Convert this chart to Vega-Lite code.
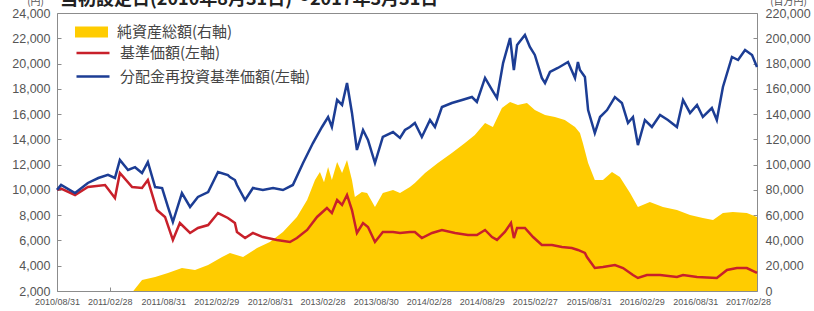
{
  "$schema": "https://vega.github.io/schema/vega-lite/v6.json",
  "width": 700,
  "height": 278,
  "autosize": {"type": "none"},
  "padding": {"left": 57, "top": 13, "right": 57, "bottom": 20},
  "background": "white",
  "config": {
    "view": {"stroke": "#8c8c8c", "strokeWidth": 1},
    "axis": {
      "domain": false,
      "grid": false,
      "labelFont": "Liberation Sans",
      "labelColor": "#555555",
      "tickColor": "#8c8c8c",
      "tickSize": -4,
      "labelOverlap": false,
      "labelFlush": false
    }
  },
  "title": {
    "text": "当初設定日(2010年8月31日)～2017年3月31日",
    "anchor": "start",
    "frame": "group",
    "font": "Noto Sans CJK JP",
    "fontSize": 18,
    "fontWeight": "bold",
    "color": "#222222",
    "offset": 5,
    "dx": 3,
    "dy": 18
  },
  "datasets": {
    "assets": [
      {"date": "2011/05/20", "value": 0},
      {"date": "2011/06/19", "value": 8700},
      {"date": "2011/08/03", "value": 11080},
      {"date": "2011/09/16", "value": 14250},
      {"date": "2011/11/03", "value": 18200},
      {"date": "2011/12/18", "value": 16620},
      {"date": "2012/02/01", "value": 20580},
      {"date": "2012/03/20", "value": 26900},
      {"date": "2012/04/16", "value": 30070},
      {"date": "2012/05/31", "value": 26900},
      {"date": "2012/07/18", "value": 34030},
      {"date": "2012/08/31", "value": 38780},
      {"date": "2012/10/15", "value": 46690},
      {"date": "2012/12/02", "value": 58560},
      {"date": "2013/01/06", "value": 72020},
      {"date": "2013/02/02", "value": 87840},
      {"date": "2013/02/19", "value": 94180},
      {"date": "2013/03/05", "value": 86000},
      {"date": "2013/03/19", "value": 98130},
      {"date": "2013/04/01", "value": 87840},
      {"date": "2013/04/19", "value": 102090},
      {"date": "2013/05/06", "value": 93380},
      {"date": "2013/05/23", "value": 103670},
      {"date": "2013/06/09", "value": 87840},
      {"date": "2013/06/19", "value": 74390},
      {"date": "2013/07/13", "value": 78350},
      {"date": "2013/07/31", "value": 77560},
      {"date": "2013/08/27", "value": 66480},
      {"date": "2013/09/23", "value": 77560},
      {"date": "2013/10/28", "value": 79930},
      {"date": "2013/11/21", "value": 77560},
      {"date": "2013/12/25", "value": 82310},
      {"date": "2014/01/11", "value": 85470},
      {"date": "2014/02/15", "value": 93380},
      {"date": "2014/03/31", "value": 101300},
      {"date": "2014/05/18", "value": 109210},
      {"date": "2014/07/02", "value": 117130},
      {"date": "2014/08/05", "value": 123460},
      {"date": "2014/09/09", "value": 132960},
      {"date": "2014/10/06", "value": 129790},
      {"date": "2014/11/06", "value": 144830},
      {"date": "2014/12/04", "value": 149580},
      {"date": "2014/12/31", "value": 147200},
      {"date": "2015/01/31", "value": 148790},
      {"date": "2015/02/27", "value": 143240},
      {"date": "2015/04/03", "value": 139290},
      {"date": "2015/05/07", "value": 137700},
      {"date": "2015/06/10", "value": 135330},
      {"date": "2015/07/15", "value": 129790},
      {"date": "2015/08/01", "value": 125040},
      {"date": "2015/08/11", "value": 117130},
      {"date": "2015/08/29", "value": 101300},
      {"date": "2015/09/21", "value": 87840},
      {"date": "2015/10/19", "value": 87840},
      {"date": "2015/11/19", "value": 94180},
      {"date": "2015/12/16", "value": 90220},
      {"date": "2016/01/20", "value": 77560},
      {"date": "2016/02/16", "value": 66480},
      {"date": "2016/03/28", "value": 70440},
      {"date": "2016/05/12", "value": 66480},
      {"date": "2016/06/29", "value": 64100},
      {"date": "2016/08/13", "value": 60150},
      {"date": "2016/09/26", "value": 57770},
      {"date": "2016/10/31", "value": 56190},
      {"date": "2016/12/04", "value": 61730},
      {"date": "2017/01/07", "value": 62520},
      {"date": "2017/02/24", "value": 61730},
      {"date": "2017/03/31", "value": 58560}
    ],
    "nav": [
      {"series": "基準価額(左軸)", "date": "2010/08/31", "value": 10000},
      {"series": "基準価額(左軸)", "date": "2010/09/14", "value": 10100},
      {"series": "基準価額(左軸)", "date": "2010/11/01", "value": 9600},
      {"series": "基準価額(左軸)", "date": "2010/12/15", "value": 10230},
      {"series": "基準価額(左軸)", "date": "2011/02/12", "value": 10390},
      {"series": "基準価額(左軸)", "date": "2011/03/18", "value": 9360},
      {"series": "基準価額(左軸)", "date": "2011/04/04", "value": 11340},
      {"series": "基準価額(左軸)", "date": "2011/05/16", "value": 10230},
      {"series": "基準価額(左軸)", "date": "2011/06/19", "value": 10150},
      {"series": "基準価額(左軸)", "date": "2011/07/09", "value": 10780},
      {"series": "基準価額(左軸)", "date": "2011/08/09", "value": 8410},
      {"series": "基準価額(左軸)", "date": "2011/09/06", "value": 7860},
      {"series": "基準価額(左軸)", "date": "2011/10/03", "value": 6040},
      {"series": "基準価額(左軸)", "date": "2011/10/27", "value": 7380},
      {"series": "基準価額(左軸)", "date": "2011/12/01", "value": 6590},
      {"series": "基準価額(左軸)", "date": "2011/12/28", "value": 6990},
      {"series": "基準価額(左軸)", "date": "2012/02/01", "value": 7220},
      {"series": "基準価額(左軸)", "date": "2012/03/06", "value": 8170},
      {"series": "基準価額(左軸)", "date": "2012/04/09", "value": 7780},
      {"series": "基準価額(左軸)", "date": "2012/05/03", "value": 7380},
      {"series": "基準価額(左軸)", "date": "2012/05/10", "value": 6670},
      {"series": "基準価額(左軸)", "date": "2012/06/07", "value": 6190},
      {"series": "基準価額(左軸)", "date": "2012/07/04", "value": 6590},
      {"series": "基準価額(左軸)", "date": "2012/08/07", "value": 6270},
      {"series": "基準価額(左軸)", "date": "2012/09/24", "value": 6040},
      {"series": "基準価額(左軸)", "date": "2012/11/08", "value": 5880},
      {"series": "基準価額(左軸)", "date": "2012/12/02", "value": 6190},
      {"series": "基準価額(左軸)", "date": "2013/01/06", "value": 6830},
      {"series": "基準価額(左軸)", "date": "2013/02/09", "value": 7860},
      {"series": "基準価額(左軸)", "date": "2013/03/15", "value": 8570},
      {"series": "基準価額(左軸)", "date": "2013/04/01", "value": 8170},
      {"series": "基準価額(左軸)", "date": "2013/04/19", "value": 9200},
      {"series": "基準価額(左軸)", "date": "2013/05/06", "value": 8810},
      {"series": "基準価額(左軸)", "date": "2013/05/23", "value": 9600},
      {"series": "基準価額(左軸)", "date": "2013/06/09", "value": 8410},
      {"series": "基準価額(左軸)", "date": "2013/06/26", "value": 6590},
      {"series": "基準価額(左軸)", "date": "2013/07/17", "value": 7380},
      {"series": "基準価額(左軸)", "date": "2013/08/03", "value": 7060},
      {"series": "基準価額(左軸)", "date": "2013/08/27", "value": 5880},
      {"series": "基準価額(左軸)", "date": "2013/09/23", "value": 6670},
      {"series": "基準価額(左軸)", "date": "2013/10/28", "value": 6670},
      {"series": "基準価額(左軸)", "date": "2013/11/21", "value": 6590},
      {"series": "基準価額(左軸)", "date": "2013/12/25", "value": 6670},
      {"series": "基準価額(左軸)", "date": "2014/01/11", "value": 6670},
      {"series": "基準価額(左軸)", "date": "2014/02/04", "value": 6190},
      {"series": "基準価額(左軸)", "date": "2014/03/11", "value": 6590},
      {"series": "基準価額(左軸)", "date": "2014/04/14", "value": 6830},
      {"series": "基準価額(左軸)", "date": "2014/05/29", "value": 6590},
      {"series": "基準価額(左軸)", "date": "2014/07/12", "value": 6430},
      {"series": "基準価額(左軸)", "date": "2014/08/12", "value": 6430},
      {"series": "基準価額(左軸)", "date": "2014/09/09", "value": 6830},
      {"series": "基準価額(左軸)", "date": "2014/10/03", "value": 6270},
      {"series": "基準価額(左軸)", "date": "2014/10/20", "value": 6040},
      {"series": "基準価額(左軸)", "date": "2014/11/16", "value": 6670},
      {"series": "基準価額(左軸)", "date": "2014/12/07", "value": 7380},
      {"series": "基準価額(左軸)", "date": "2014/12/17", "value": 6190},
      {"series": "基準価額(左軸)", "date": "2014/12/28", "value": 6990},
      {"series": "基準価額(左軸)", "date": "2015/01/24", "value": 6990},
      {"series": "基準価額(左軸)", "date": "2015/02/21", "value": 6270},
      {"series": "基準価額(左軸)", "date": "2015/03/23", "value": 5640},
      {"series": "基準価額(左軸)", "date": "2015/04/27", "value": 5640},
      {"series": "基準価額(左軸)", "date": "2015/05/31", "value": 5480},
      {"series": "基準価額(左軸)", "date": "2015/07/04", "value": 5400},
      {"series": "基準価額(左軸)", "date": "2015/07/25", "value": 5250},
      {"series": "基準価額(左軸)", "date": "2015/08/18", "value": 5010},
      {"series": "基準価額(左軸)", "date": "2015/08/25", "value": 4690},
      {"series": "基準価額(左軸)", "date": "2015/09/21", "value": 3820},
      {"series": "基準価額(左軸)", "date": "2015/10/19", "value": 3900},
      {"series": "基準価額(左軸)", "date": "2015/11/29", "value": 4060},
      {"series": "基準価額(左軸)", "date": "2015/12/27", "value": 3820},
      {"series": "基準価額(左軸)", "date": "2016/01/30", "value": 3270},
      {"series": "基準価額(左軸)", "date": "2016/02/16", "value": 3030},
      {"series": "基準価額(左軸)", "date": "2016/03/18", "value": 3270},
      {"series": "基準価額(左軸)", "date": "2016/05/02", "value": 3270},
      {"series": "基準価額(左軸)", "date": "2016/06/29", "value": 3110},
      {"series": "基準価額(左軸)", "date": "2016/07/20", "value": 3270},
      {"series": "基準価額(左軸)", "date": "2016/09/06", "value": 3110},
      {"series": "基準価額(左軸)", "date": "2016/11/13", "value": 3030},
      {"series": "基準価額(左軸)", "date": "2016/12/18", "value": 3660},
      {"series": "基準価額(左軸)", "date": "2017/01/21", "value": 3820},
      {"series": "基準価額(左軸)", "date": "2017/02/24", "value": 3820},
      {"series": "基準価額(左軸)", "date": "2017/03/31", "value": 3430},
      {"series": "分配金再投資基準価額(左軸)", "date": "2010/08/31", "value": 10000},
      {"series": "分配金再投資基準価額(左軸)", "date": "2010/09/14", "value": 10390},
      {"series": "分配金再投資基準価額(左軸)", "date": "2010/11/01", "value": 9750},
      {"series": "分配金再投資基準価額(左軸)", "date": "2010/12/15", "value": 10550},
      {"series": "分配金再投資基準価額(左軸)", "date": "2011/01/20", "value": 10940},
      {"series": "分配金再投資基準価額(左軸)", "date": "2011/02/22", "value": 11200},
      {"series": "分配金再投資基準価額(左軸)", "date": "2011/03/18", "value": 10950},
      {"series": "分配金再投資基準価額(左軸)", "date": "2011/04/04", "value": 12370},
      {"series": "分配金再投資基準価額(左軸)", "date": "2011/05/02", "value": 11580},
      {"series": "分配金再投資基準価額(左軸)", "date": "2011/05/26", "value": 11800},
      {"series": "分配金再投資基準価額(左軸)", "date": "2011/06/19", "value": 11340},
      {"series": "分配金再投資基準価額(左軸)", "date": "2011/07/09", "value": 12200},
      {"series": "分配金再投資基準価額(左軸)", "date": "2011/08/03", "value": 10230},
      {"series": "分配金再投資基準価額(左軸)", "date": "2011/08/27", "value": 10150},
      {"series": "分配金再投資基準価額(左軸)", "date": "2011/09/16", "value": 8650},
      {"series": "分配金再投資基準価額(左軸)", "date": "2011/10/03", "value": 7460},
      {"series": "分配金再投資基準価額(左軸)", "date": "2011/11/03", "value": 9750},
      {"series": "分配金再投資基準価額(左軸)", "date": "2011/12/01", "value": 8650},
      {"series": "分配金再投資基準価額(左軸)", "date": "2011/12/28", "value": 9440},
      {"series": "分配金再投資基準価額(左軸)", "date": "2012/02/01", "value": 9830},
      {"series": "分配金再投資基準価額(左軸)", "date": "2012/03/06", "value": 11420},
      {"series": "分配金再投資基準価額(左軸)", "date": "2012/04/09", "value": 11180},
      {"series": "分配金再投資基準価額(左軸)", "date": "2012/04/16", "value": 11020},
      {"series": "分配金再投資基準価額(左軸)", "date": "2012/05/03", "value": 10780},
      {"series": "分配金再投資基準価額(左軸)", "date": "2012/05/10", "value": 10390},
      {"series": "分配金再投資基準価額(左軸)", "date": "2012/06/07", "value": 9200},
      {"series": "分配金再投資基準価額(左軸)", "date": "2012/07/04", "value": 10150},
      {"series": "分配金再投資基準価額(左軸)", "date": "2012/08/07", "value": 9990},
      {"series": "分配金再投資基準価額(左軸)", "date": "2012/09/11", "value": 10150},
      {"series": "分配金再投資基準価額(左軸)", "date": "2012/10/15", "value": 9990},
      {"series": "分配金再投資基準価額(左軸)", "date": "2012/11/18", "value": 10390},
      {"series": "分配金再投資基準価額(左軸)", "date": "2012/12/23", "value": 12130},
      {"series": "分配金再投資基準価額(左軸)", "date": "2013/01/26", "value": 13710},
      {"series": "分配金再投資基準価額(左軸)", "date": "2013/02/26", "value": 14980},
      {"series": "分配金再投資基準価額(左軸)", "date": "2013/03/19", "value": 15770},
      {"series": "分配金再投資基準価額(左軸)", "date": "2013/04/01", "value": 14980},
      {"series": "分配金再投資基準価額(左軸)", "date": "2013/04/19", "value": 17120},
      {"series": "分配金再投資基準価額(左軸)", "date": "2013/05/06", "value": 16720},
      {"series": "分配金再投資基準価額(左軸)", "date": "2013/05/23", "value": 18460},
      {"series": "分配金再投資基準価額(左軸)", "date": "2013/06/09", "value": 16090},
      {"series": "分配金再投資基準価額(左軸)", "date": "2013/06/26", "value": 13160},
      {"series": "分配金再投資基準価額(左軸)", "date": "2013/07/17", "value": 14740},
      {"series": "分配金再投資基準価額(左軸)", "date": "2013/08/03", "value": 13950},
      {"series": "分配金再投資基準価額(左軸)", "date": "2013/08/27", "value": 12130},
      {"series": "分配金再投資基準価額(左軸)", "date": "2013/09/23", "value": 14190},
      {"series": "分配金再投資基準価額(左軸)", "date": "2013/10/28", "value": 14580},
      {"series": "分配金再投資基準価額(左軸)", "date": "2013/11/21", "value": 14110},
      {"series": "分配金再投資基準価額(左軸)", "date": "2013/12/08", "value": 14740},
      {"series": "分配金再投資基準価額(左軸)", "date": "2013/12/25", "value": 14980},
      {"series": "分配金再投資基準価額(左軸)", "date": "2014/01/11", "value": 15300},
      {"series": "分配金再投資基準価額(左軸)", "date": "2014/02/04", "value": 14190},
      {"series": "分配金再投資基準価額(左軸)", "date": "2014/03/04", "value": 15530},
      {"series": "分配金再投資基準価額(左軸)", "date": "2014/03/21", "value": 14980},
      {"series": "分配金再投資基準価額(左軸)", "date": "2014/04/14", "value": 16560},
      {"series": "分配金再投資基準価額(左軸)", "date": "2014/05/18", "value": 16880},
      {"series": "分配金再投資基準価額(左軸)", "date": "2014/06/22", "value": 17120},
      {"series": "分配金再投資基準価額(左軸)", "date": "2014/07/26", "value": 17350},
      {"series": "分配金再投資基準価額(左軸)", "date": "2014/08/12", "value": 16960},
      {"series": "分配金再投資基準価額(左軸)", "date": "2014/09/09", "value": 18860},
      {"series": "分配金再投資基準価額(左軸)", "date": "2014/10/03", "value": 17910},
      {"series": "分配金再投資基準価額(左軸)", "date": "2014/10/20", "value": 17270},
      {"series": "分配金再投資基準価額(左軸)", "date": "2014/11/10", "value": 20040},
      {"series": "分配金再投資基準価額(左軸)", "date": "2014/12/04", "value": 22020},
      {"series": "分配金再投資基準価額(左軸)", "date": "2014/12/17", "value": 19490},
      {"series": "分配金再投資基準価額(左軸)", "date": "2014/12/28", "value": 21470},
      {"series": "分配金再投資基準価額(左軸)", "date": "2015/01/24", "value": 22260},
      {"series": "分配金再投資基準価額(左軸)", "date": "2015/02/10", "value": 21310},
      {"series": "分配金再投資基準価額(左軸)", "date": "2015/02/27", "value": 20680},
      {"series": "分配金再投資基準価額(左軸)", "date": "2015/03/23", "value": 18860},
      {"series": "分配金再投資基準価額(左軸)", "date": "2015/04/03", "value": 18460},
      {"series": "分配金再投資基準価額(左軸)", "date": "2015/04/20", "value": 19330},
      {"series": "分配金再投資基準価額(左軸)", "date": "2015/05/17", "value": 19650},
      {"series": "分配金再投資基準価額(左軸)", "date": "2015/06/21", "value": 20120},
      {"series": "分配金再投資基準価額(左軸)", "date": "2015/07/15", "value": 18860},
      {"series": "分配金再投資基準価額(左軸)", "date": "2015/07/25", "value": 20120},
      {"series": "分配金再投資基準価額(左軸)", "date": "2015/08/01", "value": 19490},
      {"series": "分配金再投資基準価額(左軸)", "date": "2015/08/18", "value": 18940},
      {"series": "分配金再投資基準価額(左軸)", "date": "2015/08/29", "value": 16320},
      {"series": "分配金再投資基準価額(左軸)", "date": "2015/09/21", "value": 14500},
      {"series": "分配金再投資基準価額(左軸)", "date": "2015/10/09", "value": 15770},
      {"series": "分配金再投資基準価額(左軸)", "date": "2015/11/02", "value": 16320},
      {"series": "分配金再投資基準価額(左軸)", "date": "2015/11/29", "value": 17350},
      {"series": "分配金再投資基準価額(左軸)", "date": "2015/12/23", "value": 16880},
      {"series": "分配金再投資基準価額(左軸)", "date": "2016/01/13", "value": 15300},
      {"series": "分配金再投資基準価額(左軸)", "date": "2016/01/30", "value": 15770},
      {"series": "分配金再投資基準価額(左軸)", "date": "2016/02/16", "value": 13550},
      {"series": "分配金再投資基準価額(左軸)", "date": "2016/03/11", "value": 15530},
      {"series": "分配金再投資基準価額(左軸)", "date": "2016/04/04", "value": 14980},
      {"series": "分配金再投資基準価額(左軸)", "date": "2016/05/02", "value": 15930},
      {"series": "分配金再投資基準価額(左軸)", "date": "2016/05/29", "value": 15530},
      {"series": "分配金再投資基準価額(左軸)", "date": "2016/06/29", "value": 14980},
      {"series": "分配金再投資基準価額(左軸)", "date": "2016/07/20", "value": 17120},
      {"series": "分配金再投資基準価額(左軸)", "date": "2016/08/13", "value": 16090},
      {"series": "分配金再投資基準価額(左軸)", "date": "2016/09/06", "value": 16720},
      {"series": "分配金再投資基準価額(左軸)", "date": "2016/09/26", "value": 15770},
      {"series": "分配金再投資基準価額(左軸)", "date": "2016/10/27", "value": 16480},
      {"series": "分配金再投資基準価額(左軸)", "date": "2016/11/13", "value": 15530},
      {"series": "分配金再投資基準価額(左軸)", "date": "2016/12/04", "value": 18150},
      {"series": "分配金再投資基準価額(左軸)", "date": "2017/01/04", "value": 20520},
      {"series": "分配金再投資基準価額(左軸)", "date": "2017/01/25", "value": 20280},
      {"series": "分配金再投資基準価額(左軸)", "date": "2017/02/18", "value": 21070},
      {"series": "分配金再投資基準価額(左軸)", "date": "2017/03/14", "value": 20680},
      {"series": "分配金再投資基準価額(左軸)", "date": "2017/03/31", "value": 19730}
    ]
  },
  "layer": [
    {
      "data": {"name": "assets"},
      "mark": {"type": "area", "interpolate": "linear"},
      "encoding": {
        "x": {
          "field": "date",
          "type": "temporal",
          "scale": {"domain": [{"year": 2010, "month": 8, "date": 31}, {"year": 2017, "month": 3, "date": 31}]},
          "axis": {
            "title": null,
            "format": "%Y/%m/%d",
            "labelFontSize": 9,
            "labelPadding": 10,
            "values": [
              {"year": 2010, "month": 8, "date": 31},
              {"year": 2011, "month": 2, "date": 28},
              {"year": 2011, "month": 8, "date": 31},
              {"year": 2012, "month": 2, "date": 29},
              {"year": 2012, "month": 8, "date": 31},
              {"year": 2013, "month": 2, "date": 28},
              {"year": 2013, "month": 8, "date": 30},
              {"year": 2014, "month": 2, "date": 28},
              {"year": 2014, "month": 8, "date": 29},
              {"year": 2015, "month": 2, "date": 27},
              {"year": 2015, "month": 8, "date": 31},
              {"year": 2016, "month": 2, "date": 29},
              {"year": 2016, "month": 8, "date": 31},
              {"year": 2017, "month": 2, "date": 28}
            ]
          }
        },
        "y": {
          "field": "value",
          "type": "quantitative",
          "scale": {"domain": [0, 220000], "nice": false, "zero": false},
          "axis": {
            "orient": "right",
            "values": [0, 20000, 40000, 60000, 80000, 100000, 120000, 140000, 160000, 180000, 200000, 220000],
            "format": ",d",
            "labelFontSize": 12.5,
            "labelPadding": 12,
            "title": "(百万円)",
            "titleAngle": 0,
            "titleX": 31,
            "titleY": -9,
            "titleAlign": "center",
            "titleBaseline": "alphabetic",
            "titleFont": "Noto Sans CJK JP",
            "titleFontSize": 10,
            "titleFontWeight": "normal",
            "titleColor": "#555555"
          }
        },
        "fill": {
          "datum": "純資産総額(右軸)",
          "type": "nominal",
          "scale": {"domain": ["純資産総額(右軸)"], "range": ["#FFCC00"]},
          "legend": {
            "orient": "none",
            "legendX": 18,
            "legendY": 9,
            "title": null,
            "padding": 0,
            "symbolType": "M-1,-0.33H1V0.33H-1Z",
            "symbolSize": 1089,
            "symbolStrokeWidth": 0,
            "symbolOpacity": 1,
            "clipHeight": 20,
            "labelOffset": 9,
            "labelFont": "Noto Sans CJK JP",
            "labelFontSize": 15,
            "labelColor": "#444444",
            "labelLimit": 400
          }
        }
      }
    },
    {
      "data": {"name": "nav"},
      "mark": {"type": "line", "strokeWidth": 2.5, "interpolate": "linear"},
      "encoding": {
        "x": {
          "field": "date",
          "type": "temporal"
        },
        "y": {
          "field": "value",
          "type": "quantitative",
          "scale": {"domain": [2000, 24000], "nice": false, "zero": false},
          "axis": {
            "orient": "left",
            "values": [2000, 4000, 6000, 8000, 10000, 12000, 14000, 16000, 18000, 20000, 22000, 24000],
            "format": ",d",
            "labelFontSize": 12.5,
            "labelPadding": 11,
            "title": "(円)",
            "titleAngle": 0,
            "titleX": -22,
            "titleY": -9,
            "titleAlign": "center",
            "titleBaseline": "alphabetic",
            "titleFont": "Noto Sans CJK JP",
            "titleFontSize": 10,
            "titleFontWeight": "normal",
            "titleColor": "#555555"
          }
        },
        "stroke": {
          "field": "series",
          "type": "nominal",
          "scale": {"domain": ["基準価額(左軸)", "分配金再投資基準価額(左軸)"], "range": ["#C8202A", "#1C3D94"]},
          "legend": {
            "orient": "none",
            "legendX": 18,
            "legendY": 30,
            "title": null,
            "padding": 0,
            "symbolType": "stroke",
            "symbolSize": 1089,
            "symbolStrokeWidth": 2.5,
            "clipHeight": 20,
            "rowPadding": 3.5,
            "labelOffset": 9,
            "labelFont": "Noto Sans CJK JP",
            "labelFontSize": 15,
            "labelColor": "#444444",
            "labelLimit": 400
          }
        }
      }
    }
  ],
  "resolve": {"scale": {"y": "independent"}}
}
